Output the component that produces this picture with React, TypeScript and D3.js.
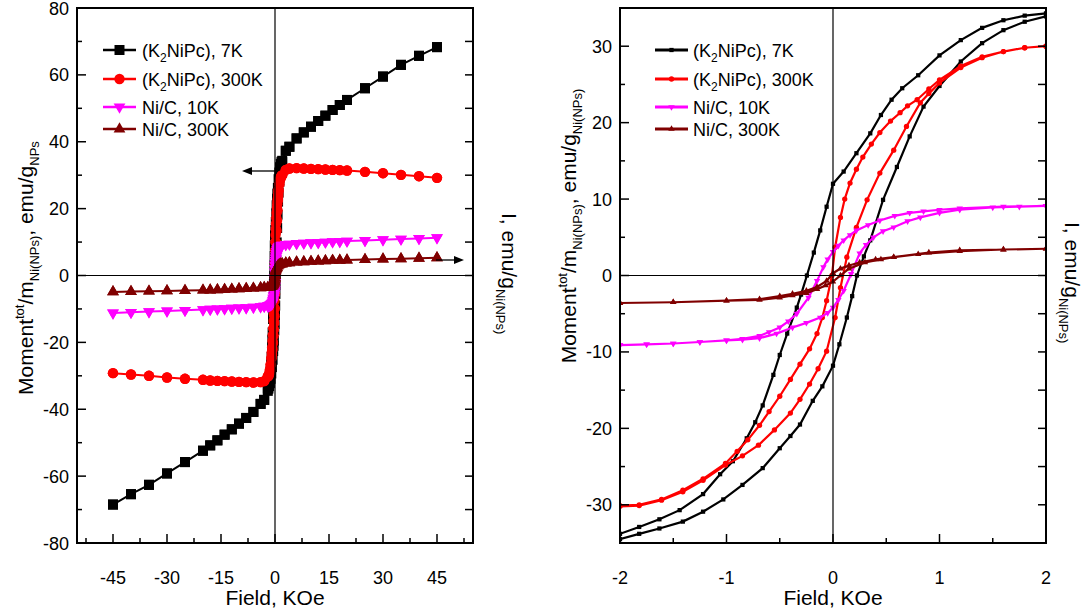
import React from "react";
import * as d3 from "d3";

// ---------------- Data ----------------
// Left panel: high-field points (kOe), positive and negative sides
const hfPos = [45, 40, 35, 30, 25, 20, 18, 16, 14, 12, 10, 8, 6, 4, 3];
const hfNeg = [-45, -40, -35, -30, -25, -20, -18, -16, -14, -12, -10, -8, -6, -4, -3];

const k7Pos = [68.3, 65.7, 63.0, 59.5, 56.0, 52.5, 51.0, 49.5, 47.8, 46.2, 44.5, 42.8, 41.0, 38.5, 37.3];
const k7Neg = [-68.5, -65.4, -62.6, -59.2, -55.8, -52.4, -50.8, -49.3, -47.6, -46.0, -44.3, -42.6, -40.8, -38.4, -37.2];
const k300Pos = [29.2, 29.7, 30.1, 30.6, 31.0, 31.4, 31.5, 31.6, 31.7, 31.8, 31.9, 32.0, 32.1, 32.0, 31.6];
const k300Neg = [-29.2, -29.6, -30.0, -30.5, -30.9, -31.2, -31.4, -31.5, -31.6, -31.7, -31.8, -31.9, -32.0, -31.9, -31.6];
const ni10Pos = [11.3, 11.1, 10.9, 10.7, 10.5, 10.3, 10.2, 10.1, 10.0, 9.9, 9.8, 9.7, 9.6, 9.4, 9.3];
const ni10Neg = [-11.2, -11.0, -10.8, -10.6, -10.4, -10.2, -10.1, -10.0, -9.9, -9.8, -9.7, -9.6, -9.5, -9.3, -9.2];
const ni300Pos = [5.3, 5.15, 5.0, 4.9, 4.75, 4.6, 4.55, 4.5, 4.4, 4.3, 4.2, 4.1, 4.0, 3.8, 3.7];
const ni300Neg = [-4.9, -4.8, -4.7, -4.6, -4.5, -4.4, -4.35, -4.3, -4.2, -4.1, -4.0, -3.9, -3.8, -3.7, -3.6];

// Right panel: low-field hysteresis branches (kOe)
const k7UpF = [2.0, 1.8, 1.6, 1.4, 1.2, 1.0, 0.8, 0.65, 0.55, 0.45, 0.35, 0.22, 0.1, 0.0, -0.06, -0.12, -0.18, -0.245, -0.3, -0.34, -0.43, -0.5, -0.56, -0.66, -0.73, -0.81, -0.94, -1.06, -1.22, -1.44, -1.63, -1.82, -2.0];
const k7UpM = [34.3, 34.0, 33.4, 32.4, 30.8, 28.8, 26.2, 24.5, 23.0, 21.0, 18.6, 16.0, 13.6, 12.0, 9.0, 5.9, 3.0, 0, -2.5, -4.2, -7.6, -10.4, -13.0, -17.0, -19.2, -21.3, -24.3, -26.0, -28.6, -30.7, -31.9, -32.9, -33.8];
const k7LoF = [-2.0, -1.82, -1.63, -1.41, -1.22, -1.03, -0.85, -0.66, -0.5, -0.4, -0.31, -0.19, -0.1, 0.0, 0.06, 0.13, 0.18, 0.225, 0.29, 0.35, 0.47, 0.6, 0.72, 0.85, 1.0, 1.2, 1.4, 1.6, 1.8, 2.0];
const k7LoM = [-34.5, -33.8, -33.1, -32.2, -30.9, -29.3, -27.4, -25.2, -22.6, -21.0, -19.5, -16.4, -14.5, -11.8, -9.0, -5.5, -2.7, 0, 2.5, 4.6, 9.9, 14.2, 18.2, 22.1, 24.8, 28.0, 30.4, 32.1, 33.2, 33.9];

const k300UpF = [2.0, 1.8, 1.6, 1.4, 1.2, 1.0, 0.9, 0.79, 0.7, 0.63, 0.54, 0.44, 0.36, 0.28, 0.22, 0.16, 0.11, 0.07, 0.02, -0.01, -0.06, -0.1, -0.15, -0.22, -0.31, -0.4, -0.5, -0.6, -0.69, -0.8, -0.9, -1.01, -1.22, -1.41, -1.61, -1.82, -2.0];
const k300UpM = [30.0, 29.8, 29.3, 28.6, 27.4, 25.6, 24.4, 23.0, 22.2, 21.3, 20.2, 18.7, 17.2, 15.5, 13.9, 12.1, 10.0, 7.6, 3.7, 0, -3.3, -5.5, -7.6, -9.6, -11.6, -13.6, -15.8, -17.8, -19.6, -21.5, -23.0, -24.6, -26.6, -28.1, -29.3, -30.0, -30.1];
const k300LoF = [-2.0, -1.82, -1.61, -1.41, -1.22, -1.01, -0.85, -0.7, -0.55, -0.4, -0.31, -0.22, -0.14, -0.06, 0.02, 0.07, 0.13, 0.22, 0.32, 0.44, 0.57, 0.69, 0.82, 0.9, 1.0, 1.2, 1.4, 1.6, 1.8, 2.0];
const k300LoM = [-30.2, -30.1, -29.4, -28.3, -26.8, -24.8, -23.6, -22.2, -20.2, -18.0, -16.2, -14.2, -12.2, -9.9, -5.5, -1.6, 2.4, 6.3, 9.9, 13.4, 16.4, 19.5, 22.6, 23.8, 25.2, 27.2, 28.5, 29.3, 29.8, 30.0];

const ni10UpF = [2.0, 1.6, 1.19, 1.0, 0.85, 0.72, 0.58, 0.44, 0.33, 0.22, 0.16, 0.1, 0.05, 0.0, -0.05, -0.09, -0.15, -0.23, -0.34, -0.42, -0.5, -0.6, -0.69, -0.85, -1.0, -1.25, -1.5, -1.75, -2.0];
const ni10UpM = [9.1, 9.0, 8.8, 8.6, 8.4, 8.2, 7.8, 7.2, 6.6, 5.9, 5.3, 4.6, 3.9, 3.1, 2.1, 1.1, -0.7, -2.9, -5.0, -6.0, -6.8, -7.4, -7.9, -8.3, -8.5, -8.7, -8.9, -9.0, -9.1];
const ni10LoF = [-2.0, -1.75, -1.5, -1.25, -1.0, -0.85, -0.69, -0.53, -0.38, -0.25, -0.12, -0.05, 0.0, 0.05, 0.1, 0.17, 0.25, 0.31, 0.38, 0.47, 0.57, 0.7, 0.82, 1.0, 1.19, 1.5, 1.75, 2.0];
const ni10LoM = [-9.1, -9.0, -8.9, -8.7, -8.5, -8.4, -8.2, -7.6, -6.8, -6.2, -5.5, -4.9, -4.2, -3.2, -2.0, 0.2, 2.9, 4.0, 5.0, 5.8, 6.3, 7.1, 7.6, 8.2, 8.6, 8.9, 9.0, 9.1];

const ni300UpF = [2.0, 1.6, 1.19, 0.9, 0.57, 0.4, 0.25, 0.15, 0.07, 0.0, -0.06, -0.15, -0.25, -0.38, -0.5, -0.69, -1.0, -1.5, -2.0];
const ni300UpM = [3.5, 3.4, 3.3, 3.0, 2.4, 2.1, 1.7, 1.3, 0.9, 0.3, -0.7, -1.5, -2.0, -2.4, -2.7, -3.1, -3.3, -3.5, -3.6];
const ni300LoF = [-2.0, -1.5, -1.0, -0.69, -0.5, -0.38, -0.25, -0.15, -0.07, 0.0, 0.07, 0.15, 0.3, 0.45, 0.57, 0.8, 1.19, 1.6, 2.0];
const ni300LoM = [-3.6, -3.5, -3.3, -3.2, -2.9, -2.6, -2.3, -1.8, -1.3, -0.8, 0.0, 0.9, 1.7, 2.1, 2.4, 2.8, 3.2, 3.4, 3.5];

const leftXTicks = [-45, -30, -15, 0, 15, 30, 45];
const leftYTicks = [-80, -60, -40, -20, 0, 20, 40, 60, 80];
const rightXTicks = [-2, -1, 0, 1, 2];
const rightYTicks = [-30, -20, -10, 0, 10, 20, 30];

const seriesNames = ["(K2NiPc), 7K", "(K2NiPc), 300K", "Ni/C, 10K", "Ni/C, 300K"];
const seriesColors = ["#000000", "#ff0000", "#ff00ff", "#800000"];
const seriesSymbols = ["square", "circle", "triDown", "triUp"];

type Pt = [number, number];
const zip = (f: number[], m: number[]): Pt[] => f.map((v, i) => [v, m[i]] as Pt);

const branches = [
  { up: zip(k7UpF, k7UpM), lo: zip(k7LoF, k7LoM), hp: zip(hfPos, k7Pos), hn: zip(hfNeg, k7Neg) },
  { up: zip(k300UpF, k300UpM), lo: zip(k300LoF, k300LoM), hp: zip(hfPos, k300Pos), hn: zip(hfNeg, k300Neg) },
  { up: zip(ni10UpF, ni10UpM), lo: zip(ni10LoF, ni10LoM), hp: zip(hfPos, ni10Pos), hn: zip(hfNeg, ni10Neg) },
  { up: zip(ni300UpF, ni300UpM), lo: zip(ni300LoF, ni300LoM), hp: zip(hfPos, ni300Pos), hn: zip(hfNeg, ni300Neg) },
];

const FONT = "'Liberation Sans', Arial, Helvetica, sans-serif";

function symbolPath(kind: string, big: boolean): { d: string; rot: number } {
  const s = big
    ? { square: 100, circle: 85, triDown: 60, triUp: 60 }
    : { square: 18, circle: 22, triDown: 18, triUp: 18 };
  const type =
    kind === "square" ? d3.symbolSquare : kind === "circle" ? d3.symbolCircle : d3.symbolTriangle;
  const d = d3.symbol().type(type).size((s as any)[kind])() as string;
  return { d, rot: kind === "triDown" ? 180 : 0 };
}

function Markers({ pts, x, y, kind, color, big }: any) {
  const { d, rot } = symbolPath(kind, big);
  return (
    <g fill={color} stroke="none">
      {pts.map((p: Pt, i: number) => (
        <path key={i} d={d} transform={`translate(${x(p[0])},${y(p[1])}) rotate(${rot})`} />
      ))}
    </g>
  );
}

function Legend({ x0, y0s, big }: any) {
  return (
    <g fontFamily={FONT} fontSize={18}>
      {seriesNames.map((name, i) => {
        const { d, rot } = symbolPath(seriesSymbols[i], big);
        const yy = y0s[i];
        const hasSub = name.startsWith("(K2");
        return (
          <g key={i}>
            <line x1={x0} x2={x0 + 33} y1={yy} y2={yy} stroke={seriesColors[i]} strokeWidth={big ? 2.5 : 3} />
            <path d={d} fill={seriesColors[i]} transform={`translate(${x0 + 16.5},${yy}) rotate(${rot})`} />
            <text x={x0 + (big ? 39 : 38)} y={yy + 6.5} fill="#000">
              {hasSub ? (
                <>
                  {"(K"}
                  <tspan dy={5} fontSize={12}>2</tspan>
                  <tspan dy={-5}>{name.slice(3)}</tspan>
                </>
              ) : (
                name
              )}
            </text>
          </g>
        );
      })}
    </g>
  );
}

function Frame({ x, y, xTicks, xMinor, yTicks, yMinor, rightTicks }: any) {
  const [x0, x1] = x.range();
  const [y0, y1] = y.range(); // y0 bottom, y1 top
  return (
    <g>
      {/* zero lines */}
      <line x1={x(0)} x2={x(0)} y1={y1} y2={y0} stroke="#000" strokeWidth={1.2} />
      <line x1={x0} x2={x1} y1={y(0)} y2={y(0)} stroke="#000" strokeWidth={1.2} />
      <rect x={x0} y={y1} width={x1 - x0} height={y0 - y1} fill="none" stroke="#000" strokeWidth={2} />
      {xTicks.map((t: number) => (
        <line key={"xt" + t} x1={x(t)} x2={x(t)} y1={y0} y2={y0 - 9} stroke="#000" strokeWidth={1.5} />
      ))}
      {xMinor.map((t: number) => (
        <line key={"xm" + t} x1={x(t)} x2={x(t)} y1={y0} y2={y0 - 5} stroke="#000" strokeWidth={1.5} />
      ))}
      {yTicks.map((t: number) => (
        <line key={"yt" + t} x1={x0} x2={x0 + 9} y1={y(t)} y2={y(t)} stroke="#000" strokeWidth={1.5} />
      ))}
      {yMinor.map((t: number) => (
        <line key={"ym" + t} x1={x0} x2={x0 + 5} y1={y(t)} y2={y(t)} stroke="#000" strokeWidth={1.5} />
      ))}
      {rightTicks.map((t: number) => (
        <line key={"rt" + t} x1={x1} x2={x1 - 8} y1={y(t)} y2={y(t)} stroke="#000" strokeWidth={1.5} />
      ))}
      <g fontFamily={FONT} fontSize={18} fill="#000">
        {xTicks.map((t: number) => (
          <text key={"xl" + t} x={x(t)} y={y0 + 41} textAnchor="middle">
            {t}
          </text>
        ))}
        {yTicks.map((t: number) => (
          <text key={"yl" + t} x={x0 - 8} y={y(t) + 6.5} textAnchor="end">
            {t}
          </text>
        ))}
      </g>
    </g>
  );
}

export default function App() {
  const W = 1092,
    H = 612;
  const xL = d3.scaleLinear().domain([-55, 55]).range([77, 473]);
  const yL = d3.scaleLinear().domain([-80, 80]).range([543, 8]);
  const xR = d3.scaleLinear().domain([-2, 2]).range([620, 1046]);
  const yR = d3.scaleLinear().domain([-35, 35]).range([543, 8]);

  const lineL = d3.line<Pt>().x((p) => xL(p[0])).y((p) => yL(p[1]));
  const lineR = d3.line<Pt>().x((p) => xR(p[0])).y((p) => yR(p[1]));

  const leftSeries = branches.map((b) => [
    ...b.hp,
    ...b.up,
    ...[...b.hn].reverse(),
    ...b.hn,
    ...b.lo,
    ...[...b.hp].reverse(),
  ]);
  const rightSeries = branches.map((b) => [...b.up, ...b.lo]);

  const d3range = (a: number, b: number, s: number) => d3.range(a, b + 1e-9, s);
  const leftYMinor = d3range(-70, 70, 20);
  const leftXMinor = d3range(-52.5, 52.5, 15);
  const leftRight = d3range(-80, 80, 10);
  const rightYMinor = d3range(-35, 35, 10);
  const rightXMinor = [-1.5, -0.5, 0.5, 1.5];
  const rightRight = d3range(-35, 35, 5);

  return (
    <svg width={W} height={H} style={{ position: "absolute", left: 0, top: 0, background: "#fff" }}>
      <defs>
        <clipPath id="clipL">
          <rect x={77} y={8} width={396} height={535} />
        </clipPath>
        <clipPath id="clipR">
          <rect x={620} y={8} width={426} height={535} />
        </clipPath>
      </defs>
      <rect x={0} y={0} width={W} height={H} fill="#fff" />

      <g clipPath="url(#clipL)">
        {leftSeries.map((pts, i) => (
          <g key={i}>
            <path d={lineL(pts) as string} fill="none" stroke={seriesColors[i]} strokeWidth={2} />
            <Markers pts={pts} x={xL} y={yL} kind={seriesSymbols[i]} color={seriesColors[i]} big={true} />
          </g>
        ))}
      </g>
      <Frame
        x={xL}
        y={yL}
        xTicks={leftXTicks}
        xMinor={leftXMinor}
        yTicks={leftYTicks}
        yMinor={leftYMinor}
        rightTicks={leftRight}
      />
      <Legend x0={103} y0s={[50, 79, 107, 129]} big={true} />
      <g stroke="#000" fill="#000">
        <line x1={xL(0)} x2={250} y1={171} y2={171} strokeWidth={1.3} />
        <polygon points="242,171 252,167 252,175" stroke="none" />
        <line x1={436} x2={455} y1={260} y2={260} strokeWidth={1.3} />
        <polygon points="464,260 454,256 454,264" stroke="none" />
      </g>

      <g clipPath="url(#clipR)">
        {rightSeries.map((pts, i) => (
          <g key={i}>
            <path d={lineR(pts) as string} fill="none" stroke={seriesColors[i]} strokeWidth={2.2} />
            <Markers pts={pts} x={xR} y={yR} kind={seriesSymbols[i]} color={seriesColors[i]} big={false} />
          </g>
        ))}
      </g>
      <Frame
        x={xR}
        y={yR}
        xTicks={rightXTicks}
        xMinor={rightXMinor}
        yTicks={rightYTicks}
        yMinor={rightYMinor}
        rightTicks={rightRight}
      />
      <Legend x0={655} y0s={[50, 79, 107, 129]} big={false} />

      <g fontFamily={FONT} fontSize={21} fill="#000">
        <text x={275} y={605} textAnchor="middle">Field, KOe</text>
        <text x={833} y={605} textAnchor="middle">Field, KOe</text>

        <text transform="translate(33,268) rotate(-90)" textAnchor="middle">
          Moment<tspan dy={-9} fontSize={13}>tot</tspan>
          <tspan dy={9}>/m</tspan>
          <tspan dy={6} fontSize={13}>Ni(NPs)</tspan>
          <tspan dy={-6}>, emu/g</tspan>
          <tspan dy={6} fontSize={13}>NPs</tspan>
        </text>
        <text transform="translate(576,226) rotate(-90)" textAnchor="middle">
          Moment<tspan dy={-9} fontSize={13}>tot</tspan>
          <tspan dy={9}>/m</tspan>
          <tspan dy={6} fontSize={13}>Ni(NPs)</tspan>
          <tspan dy={-6}>, emu/g</tspan>
          <tspan dy={6} fontSize={13}>Ni(NPs)</tspan>
        </text>

        <text transform="translate(502,213) rotate(90)" textAnchor="start">
          I, emu/g<tspan dy={6} fontSize={13}>Ni(NPs)</tspan>
        </text>
        <text transform="translate(1065,222) rotate(90)" textAnchor="start">
          I, emu/g<tspan dy={6} fontSize={13}>Ni(NPs)</tspan>
        </text>
      </g>
    </svg>
  );
}
